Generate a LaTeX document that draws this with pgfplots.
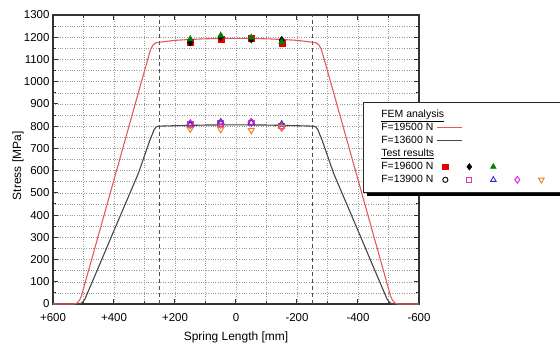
\documentclass[border=0pt]{standalone}
\usepackage{fontspec}
\setmainfont{Liberation Sans}
\usepackage{pgfplots}
\pgfplotsset{compat=1.18}

\definecolor{femred}{RGB}{228,90,90}
\definecolor{femgray}{RGB}{70,70,70}
\definecolor{tred}{RGB}{230,0,0}
\definecolor{tgreen}{RGB}{0,130,0}
\definecolor{tpink}{RGB}{220,60,160}
\definecolor{tblue}{RGB}{50,50,200}
\definecolor{tmag}{RGB}{220,30,220}
\definecolor{torange}{RGB}{235,130,30}

\pgfplotsset{
  legmark/.style={legend image code/.code={\path[draw=none,fill=none] (0bp,0bp) -- (12bp,0bp);
      \draw[mark repeat=2,mark phase=2,##1,only marks] plot coordinates {(0bp,0bp)(6bp,0bp)(12bp,0bp)};}},
  legline/.style={legend image code/.code={\path[draw=none,fill=none] (0bp,0bp) -- (12bp,0bp);
      \draw[overlay,##1] (-2.5bp,0bp) -- (22.5bp,0bp);}},
}

\begin{document}
\begin{tikzpicture}
\begin{axis}[
  at={(0,0)}, anchor=south west,
  scale only axis, width=366bp, height=289bp,
  xmin=-600, xmax=600, x dir=reverse,
  ymin=0, ymax=1300,
  clip=false,
  xtick={-600,-400,...,600},
  xticklabels={-600,-400,-200,0,+200,+400,+600},
  minor xtick={-500,-300,...,500},
  ytick={0,100,...,1300},
  minor ytick={50,150,...,1250},
  grid=both,
  major grid style={dotted, color=black!40, line width=0.5bp},
  minor grid style={dotted, color=black!40, line width=0.5bp},
  axis line style={line width=1.2bp, color=black!80},
  every tick/.style={black!80, line width=1bp},
  major tick length=5bp, minor tick length=3bp,
  tick pos=both, tick align=inside,
  ticklabel style={font=\fontsize{11.5}{13}\selectfont},
  /pgf/number format/assume math mode=true,
  /pgf/number format/1000 sep={},
  xticklabel style={yshift=-6bp},
  xlabel={Spring Length [mm]}, ylabel={Stress [MPa]},
  label style={font=\fontsize{12}{14}\selectfont},
  xlabel style={at={(axis description cs:0.5,-0.114)}, anchor=center},
  ylabel style={at={(axis description cs:-0.0956,0.478)}, anchor=center},
  legend columns=5, legend plot pos=right, legend cell align=left,
  legend style={
    at={(axis description cs:0.8470,0.6990)}, anchor=north west,
    draw=black!85, fill=white, line width=0.6bp,
    inner xsep=14.5bp, inner ysep=6bp,
    column sep=2.5bp, row sep=0bp,
    font=\fontsize{10.5}{12}\selectfont,
    nodes={inner xsep=3.5bp, inner ysep=1.5bp, text height=7.5bp, text depth=2.5bp},
  },
]
% legend shadow (drawn below the legend box)
\fill[black] (rel axis cs:0.858,0.6817) rectangle (rel axis cs:1.44,0.372);

% reference lines
\addplot[forget plot, color=black!70, line width=1bp, dash pattern=on 4bp off 3bp] coordinates {(250,0)(250,1300)};
\addplot[forget plot, color=black!70, line width=1bp, dash pattern=on 4bp off 3bp] coordinates {(-250,0)(-250,1300)};

% FEM F=13600 N
\addplot[forget plot, color=femgray, line width=1.1bp] coordinates {
(600,0)(515,0)(509,2)(503,8)(496,20)(446,181)(402,324)(320,588)(282,738)(268,785)(262,796)(255,800)(200,802)(100,805)(0,806)
(-100,805)(-200,802)(-255,800)(-262,796)(-268,785)(-282,738)(-320,588)(-402,324)(-446,181)(-496,20)(-503,8)(-509,2)(-515,0)(-600,0)};
% FEM F=19500 N
\addplot[forget plot, color=femred, line width=1.1bp] coordinates {
(600,0)(532,0)(525,2)(519,7)(513,17)(507,35)(450,314)(386,628)(293,1083)(280,1145)(273,1163)(267,1171)(260,1176)(200,1186)(150,1190)(100,1193)(50,1194.5)(0,1195)
(-50,1194.5)(-100,1193)(-150,1190)(-200,1186)(-260,1176)(-267,1171)(-273,1163)(-280,1145)(-293,1083)(-386,628)(-450,314)(-507,35)(-513,17)(-519,7)(-525,2)(-532,0)(-600,0)};

% Test results F=19600 N
\addplot[forget plot, only marks, mark=square*, color=tred, mark size=3bp] coordinates {(150,1178)(50,1192)(-50,1195)(-150,1172)};
\addplot[forget plot, only marks, mark=diamond*, color=black, mark size=3.6bp] coordinates {(150,1176)(50,1200)(-50,1190)(-150,1188)};
\addplot[forget plot, only marks, mark=triangle*, color=tgreen, mark size=3.6bp] coordinates {(150,1192)(50,1208)(-50,1199)(-150,1178)};
% Test results F=13900 N
\addplot[forget plot, only marks, mark=o, color=black, mark size=3bp, line width=1bp] coordinates {(150,805)(50,810)(-50,815)(-150,800)};
\addplot[forget plot, only marks, mark=square, color=tpink, mark size=2.8bp, line width=1bp] coordinates {(150,808)(50,812)(-50,815)(-150,800)};
\addplot[forget plot, only marks, mark=triangle, color=tblue, mark size=3.6bp, line width=1bp] coordinates {(150,805)(50,818)(-50,815)(-150,808)};
\addplot[forget plot, only marks, mark=diamond, color=tmag, mark size=3.8bp, line width=1bp] coordinates {(150,812)(50,808)(-50,818)(-150,795)};
\addplot[forget plot, only marks, mark=triangle, mark options={rotate=180}, color=torange, mark size=3.6bp, line width=1bp] coordinates {(150,788)(50,786)(-50,782)(-150,795)};

% legend
\addlegendimage{empty legend}\addlegendentry{\makebox[0pt][l]{\underline{FEM analysis}}}
\addlegendimage{empty legend}\addlegendentry{}
\addlegendimage{empty legend}\addlegendentry{}
\addlegendimage{empty legend}\addlegendentry{}
\addlegendimage{empty legend}\addlegendentry{}
\addlegendimage{legline, color=femred, line width=1.1bp}\addlegendentry{F=19500 N}
\addlegendimage{empty legend}\addlegendentry{}
\addlegendimage{empty legend}\addlegendentry{}
\addlegendimage{empty legend}\addlegendentry{}
\addlegendimage{empty legend}\addlegendentry{}
\addlegendimage{legline, color=femgray, line width=1.1bp}\addlegendentry{F=13600 N}
\addlegendimage{empty legend}\addlegendentry{}
\addlegendimage{empty legend}\addlegendentry{}
\addlegendimage{empty legend}\addlegendentry{}
\addlegendimage{empty legend}\addlegendentry{}
\addlegendimage{empty legend}\addlegendentry{\makebox[0pt][l]{\underline{Test results}}}
\addlegendimage{empty legend}\addlegendentry{}
\addlegendimage{empty legend}\addlegendentry{}
\addlegendimage{empty legend}\addlegendentry{}
\addlegendimage{empty legend}\addlegendentry{}
\addlegendimage{only marks, mark=square*, color=tred, mark size=2.6bp, legmark}\addlegendentry{F=19600 N}
\addlegendimage{only marks, mark=diamond*, color=black, mark size=3.2bp, legmark}\addlegendentry{}
\addlegendimage{only marks, mark=triangle*, color=tgreen, mark size=3.2bp, legmark}\addlegendentry{}
\addlegendimage{empty legend}\addlegendentry{}
\addlegendimage{empty legend}\addlegendentry{}
\addlegendimage{only marks, mark=o, color=black, mark size=2.6bp, line width=0.9bp, legmark}\addlegendentry{F=13900 N}
\addlegendimage{only marks, mark=square, color=tpink, mark size=2.5bp, line width=0.9bp, legmark}\addlegendentry{}
\addlegendimage{only marks, mark=triangle, color=tblue, mark size=3.2bp, line width=0.9bp, legmark}\addlegendentry{}
\addlegendimage{only marks, mark=diamond, color=tmag, mark size=3.4bp, line width=0.9bp, legmark}\addlegendentry{}
\addlegendimage{only marks, mark=triangle, mark options={rotate=180}, color=torange, mark size=3.2bp, line width=0.9bp, legmark}\addlegendentry{}
\end{axis}
\pgfresetboundingbox
\path[use as bounding box] (-53bp,-40bp) rectangle (507bp,304bp);
\end{tikzpicture}
\end{document}
